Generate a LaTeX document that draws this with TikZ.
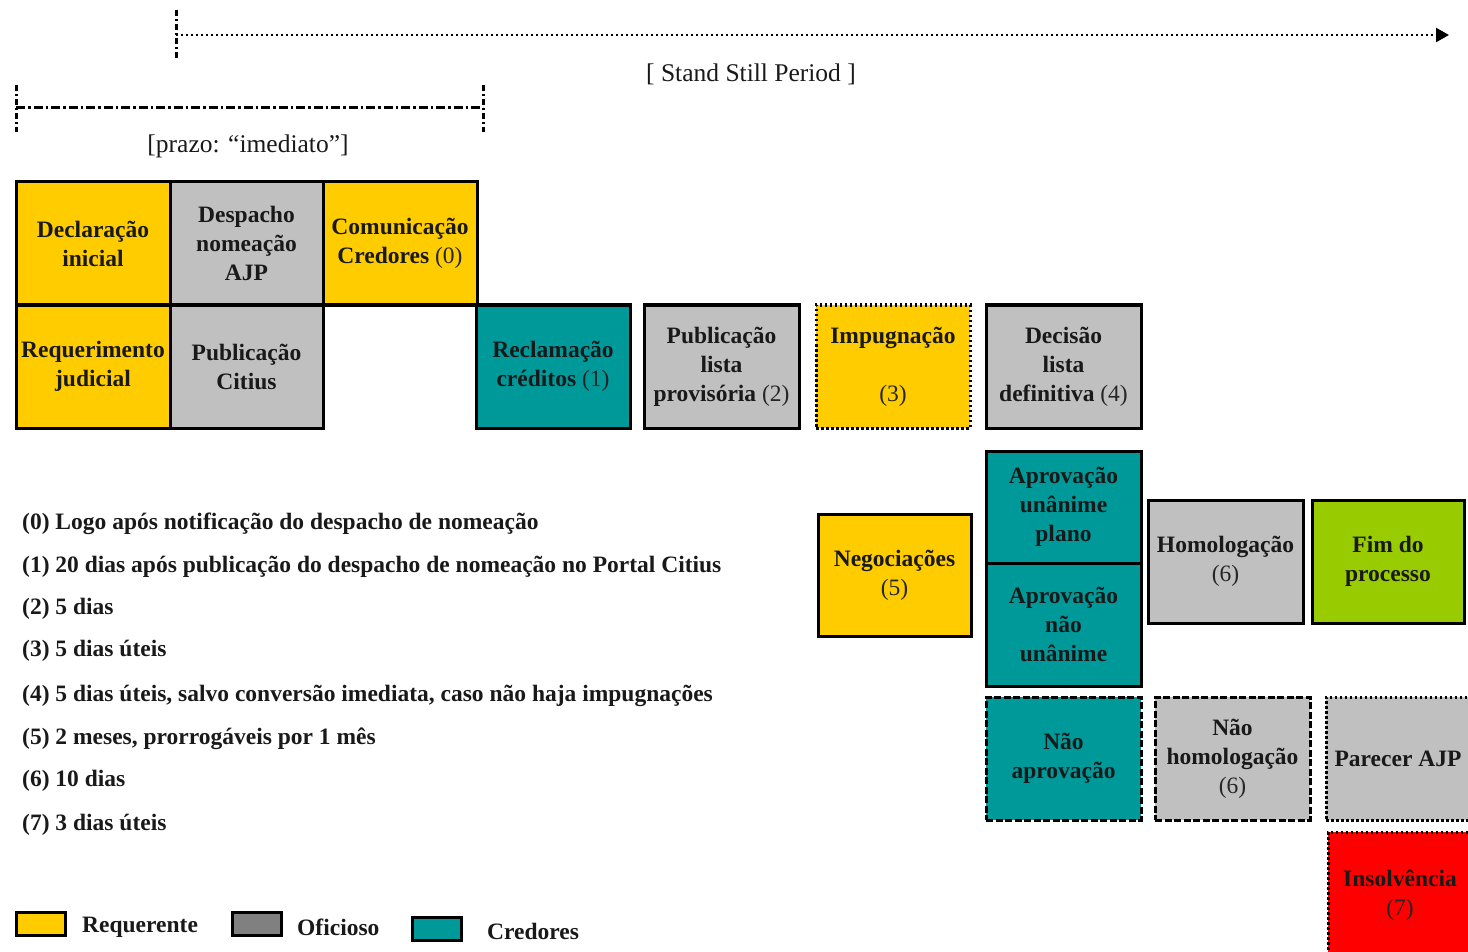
\documentclass[tikz,border=0pt]{standalone}
\usepackage{fontspec}
\setmainfont{Liberation Serif}
\usetikzlibrary{arrows.meta}
\definecolor{cyel}{HTML}{FFCC00}
\definecolor{cgray}{HTML}{C0C0C0}
\definecolor{cteal}{HTML}{009999}
\definecolor{cgreen}{HTML}{99CC00}
\definecolor{cred}{HTML}{FF0000}
\definecolor{cdgray}{HTML}{808080}
\newcommand{\nb}[1]{{\mdseries\color{black!85}#1}}
\newcommand{\pbox}[7]{\node[#2, minimum width={(#5-#3)*1pt}, minimum height={(#6-#4)*1pt}] (#1) at ({(#3+#5)/2},{(#4+#6)/2}) {#7};}
\begin{document}
\begin{tikzpicture}[x=1pt,y=-1pt,
  box/.style={draw=black, line width=3pt, inner sep=1pt, outer sep=0pt, align=center,
    font=\fontsize{23.5}{29}\selectfont\bfseries, text=black!90},
  dotbox/.style={box, dash pattern=on 2.5pt off 2.5pt},
  dashbox/.style={box, dash pattern=on 7pt off 2.5pt},
  listtxt/.style={anchor=west, inner sep=0pt, font=\fontsize{23.5}{27}\selectfont\bfseries, text=black!90},
  lbl/.style={inner sep=0pt, font=\fontsize{25.5}{29}\selectfont, text=black!90},
  legbox/.style={draw=black, line width=3pt, minimum width=49pt, minimum height=23pt, inner sep=0pt},
  tick/.style={line width=3pt, dash pattern=on 6pt off 3pt on 2pt off 3pt},
]
\useasboundingbox (0,0) rectangle (1468,952);

% timelines
\coordinate (s1) at (176,10); \coordinate (s2) at (176,60);
\coordinate (sa) at (176,35); \coordinate (sb) at (1449,35);
\draw[tick] (s1) -- (s2);
\draw[line width=2.4pt, dash pattern=on 2.4pt off 2.6pt, -{Triangle[length=13pt,width=14pt]}] (sa) -- (sb);
\node[lbl] (sslabel) at (751,74) {[ Stand Still Period ]};

\coordinate (p1) at (16,85); \coordinate (p2) at (16,132);
\coordinate (p3) at (483,85); \coordinate (p4) at (483,132);
\coordinate (pa) at (16,108); \coordinate (pb) at (483,108);
\draw[tick] (p1) -- (p2);
\draw[tick] (p3) -- (p4);
\draw[line width=3pt, dash pattern=on 9pt off 3pt on 2.5pt off 3pt] (pa) -- (pb);
\node[lbl] (prlabel) at (248,146) {[prazo: “imediato”]};

% row 1
\pbox{decl}{box, fill=cyel}{16}{182}{170}{305}{Declaração\\inicial}
\pbox{desp}{box, fill=cgray}{170}{182}{323}{305}{Despacho\\nomeação\\AJP}
\pbox{comu}{box, fill=cyel}{323}{182}{477}{305}{Comunicação\\Credores \nb{(0)}}
% row 2
\pbox{requ}{box, fill=cyel}{16}{305}{170}{428}{Requerimento\\judicial}
\pbox{pubc}{box, fill=cgray}{170}{305}{323}{428}{Publicação\\Citius}
\pbox{recl}{box, fill=cteal}{476}{305}{630}{428}{Reclamação\\créditos \nb{(1)}}
\pbox{publ}{box, fill=cgray}{644}{305}{799}{428}{Publicação\\lista\\provisória \nb{(2)}}
\pbox{impu}{dotbox, fill=cyel}{816}{305}{970}{428}{Impugnação\\\mbox{}\\\nb{(3)}}
\pbox{deci}{box, fill=cgray}{986}{305}{1141}{428}{Decisão\\lista\\definitiva \nb{(4)}}

% middle
\pbox{nego}{box, fill=cyel}{818}{514}{971}{636}{Negociações\\\nb{(5)}}
\pbox{aprU}{box, fill=cteal}{986}{451}{1141}{563}{Aprovação\\unânime\\plano}
\pbox{aprN}{box, fill=cteal}{986}{563}{1141}{686}{Aprovação\\não\\unânime}
\pbox{homo}{box, fill=cgray}{1148}{500}{1303}{623}{Homologação\\\nb{(6)}}
\pbox{fim}{box, fill=cgreen}{1312}{500}{1464}{623}{Fim do\\processo}

% bottom
\pbox{naoA}{dashbox, fill=cteal}{986}{697}{1141}{820}{Não\\aprovação}
\pbox{naoH}{dashbox, fill=cgray}{1155}{697}{1310}{820}{Não\\homologação\\\nb{(6)}}
\pbox{pare}{dotbox, fill=cgray}{1326}{697}{1470}{820}{Parecer AJP}
\pbox{inso}{dotbox, fill=cred}{1328}{832}{1480}{958}{\hspace*{-8pt}Insolvência\\\hspace*{-8pt}\nb{(7)}}

% notes
\node[listtxt] (l0) at (22,524) {(0) Logo após notificação do despacho de nomeação};
\node[listtxt] (l1) at (22,567) {(1) 20 dias após publicação do despacho de nomeação no Portal Citius};
\node[listtxt] (l2) at (22,609) {(2) 5 dias};
\node[listtxt] (l3) at (22,651) {(3) 5 dias úteis};
\node[listtxt] (l4) at (22,696) {(4) 5 dias úteis, salvo conversão imediata, caso não haja impugnações};
\node[listtxt] (l5) at (22,739) {(5) 2 meses, prorrogáveis por 1 mês};
\node[listtxt] (l6) at (22,781) {(6) 10 dias};
\node[listtxt] (l7) at (22,825) {(7) 3 dias úteis};

% legend
\node[legbox, fill=cyel] (lg1) at (41,924) {};
\node[listtxt] (lt1) at (82,927) {Requerente};
\node[legbox, fill=cdgray] (lg2) at (256.5,924) {};
\node[listtxt] (lt2) at (297,927) {Oficioso};
\node[legbox, fill=cteal] (lg3) at (436.5,929) {};
\node[listtxt] (lt3) at (487,931) {Credores};
\end{tikzpicture}
\end{document}
